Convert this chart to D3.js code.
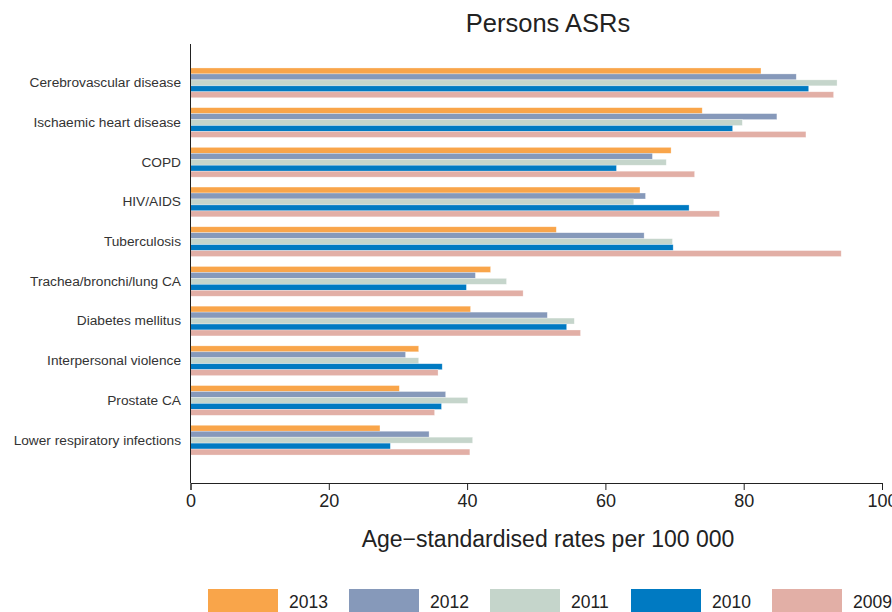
<!DOCTYPE html>
<html>
<head>
<meta charset="utf-8">
<script src="https://cdn.jsdelivr.net/npm/d3@7"></script>
<style>
  body { margin: 0; background: #fff; }
  text { font-family: "Liberation Sans", Arial, sans-serif; }
</style>
</head>
<body>
<div id="chart"></div>
<script>
let causes = ["Cerebrovascular disease", "Ischaemic heart disease", "COPD", "HIV/AIDS", "Tuberculosis",
              "Trachea/bronchi/lung CA", "Diabetes mellitus", "Interpersonal violence", "Prostate CA",
              "Lower respiratory infections"];
let years = ["2013", "2012", "2011", "2010", "2009"];
let yearColors = ["#F9A54A", "#8699BA", "#C5D5CB", "#007AC2", "#E2AFA6"];

// one array per year, same order as causes
let rates2013 = [82.5, 74.0, 69.5, 65.0, 52.9, 43.4, 40.5, 33.0, 30.2, 27.4];
let rates2012 = [87.6, 84.8, 66.8, 65.8, 65.6, 41.2, 51.6, 31.1, 36.9, 34.5];
let rates2011 = [93.5, 79.8, 68.8, 64.1, 69.7, 45.7, 55.5, 33.0, 40.1, 40.8];
let rates2010 = [89.4, 78.4, 61.6, 72.1, 69.8, 39.9, 54.4, 36.4, 36.3, 28.9];
let rates2009 = [93.0, 89.0, 72.9, 76.5, 94.1, 48.1, 56.4, 35.8, 35.3, 40.4];
let xTicks = [0, 20, 40, 60, 80, 100];

let allRates = [rates2013, rates2012, rates2011, rates2010, rates2009];

let W = 892, H = 612;
let svg = d3.select("#chart").append("svg")
            .attr("width", W)
            .attr("height", H);

let xScale = d3.scaleLinear().domain([0, 100]).range([190.5, 882]);
let yScale = d3.scaleBand().domain(causes).range([63, 460]).paddingInner(0.25).paddingOuter(0.125);
let yearScale = d3.scaleBand().domain(years).range([0, yScale.bandwidth()]);
let colorScale = d3.scaleOrdinal().domain(years).range(yearColors);

// bars
let flat = [];
causes.forEach(function(c, i){
  years.forEach(function(y, j){
    flat.push({cause: c, year: y, value: allRates[j][i]});
  });
});

svg.append("g").selectAll("rect")
   .data(flat)
   .enter()
   .append("rect")
   .attr("x", xScale(0))
   .attr("y", d => yScale(d.cause) + yearScale(d.year))
   .attr("width", d => xScale(d.value) - xScale(0))
   .attr("height", yearScale.bandwidth())
   .attr("fill", d => colorScale(d.year))
   .attr("stroke", "#fff")
   .attr("stroke-opacity", 0.5)
   .attr("stroke-width", 0.6);

// x axis
let xAxis = d3.axisBottom(xScale).tickValues(xTicks).tickSize(7).tickPadding(4);
let xAxisGroup = svg.append("g")
                    .attr("transform", "translate(0,483)")
                    .call(xAxis);
xAxisGroup.select(".domain").attr("stroke", "#222");
xAxisGroup.selectAll(".tick line").attr("stroke", "#222");
xAxisGroup.selectAll(".tick text")
          .attr("font-size", 18)
          .attr("fill", "#222")
          .style("font-family", "'Liberation Sans', Arial, sans-serif");

// y axis: line plus labels, no ticks
svg.append("line")
   .attr("x1", 190.5).attr("x2", 190.5)
   .attr("y1", 44).attr("y2", 483)
   .attr("stroke", "#222");

let yAxis = d3.axisLeft(yScale).tickSize(0).tickPadding(9.5);
let yAxisGroup = svg.append("g")
                    .attr("transform", "translate(190.5,0)")
                    .call(yAxis);
yAxisGroup.select(".domain").remove();
yAxisGroup.selectAll(".tick text")
          .attr("font-size", 13.7)
          .attr("fill", "#333")
          .style("font-family", "'Liberation Sans', Arial, sans-serif");

// titles
svg.append("text")
   .attr("x", 548).attr("y", 32)
   .attr("text-anchor", "middle")
   .attr("font-size", 25.5)
   .attr("fill", "#222")
   .text("Persons ASRs");

svg.append("text")
   .attr("x", 548).attr("y", 547)
   .attr("text-anchor", "middle")
   .attr("font-size", 23)
   .attr("fill", "#222")
   .text("Age\u2212standardised rates per 100 000");

// legend
let legend = svg.append("g").selectAll("g")
                .data(years)
                .enter()
                .append("g")
                .attr("transform", (d, i) => "translate(" + (208 + i * 141) + ",589)");
legend.append("rect")
      .attr("width", 70)
      .attr("height", 24)
      .attr("fill", d => colorScale(d));
legend.append("text")
      .attr("x", 81)
      .attr("y", 19)
      .attr("font-size", 17.5)
      .attr("fill", "#222")
      .text(d => d);
</script>
</body>
</html>
